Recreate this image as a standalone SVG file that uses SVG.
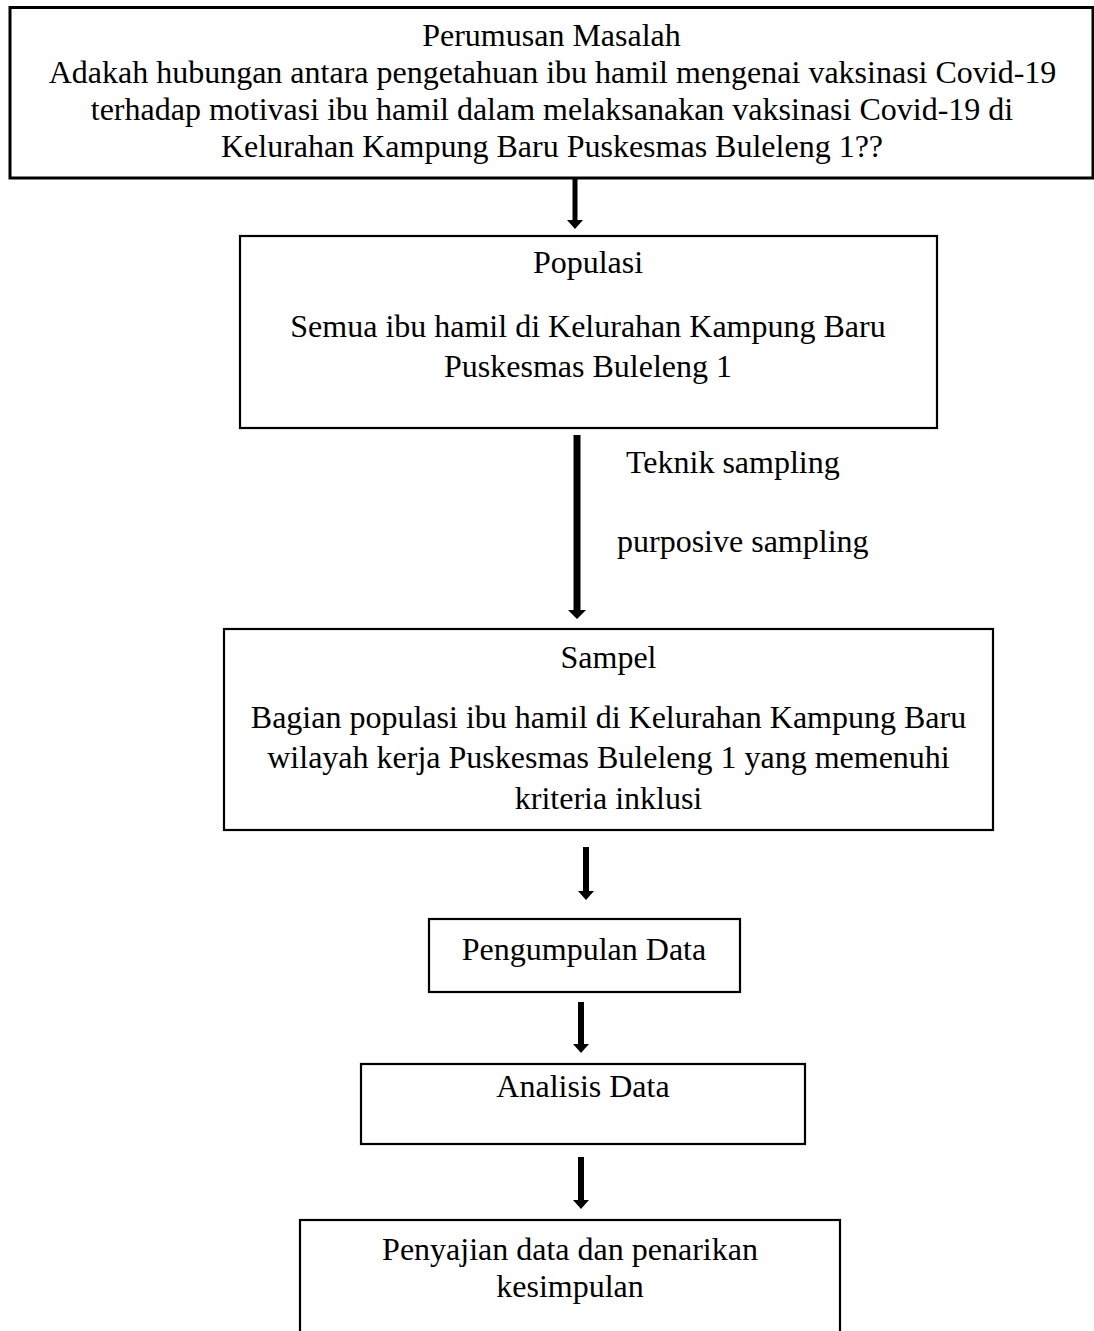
<svg xmlns="http://www.w3.org/2000/svg" width="1094" height="1331" viewBox="0 0 1094 1331">
<style>
.box{fill:#fff;stroke:#000;stroke-width:2.2}
.t{font-family:"Liberation Serif","Times New Roman",serif;font-size:32px;fill:#000}
.m{text-anchor:middle}
.arr{fill:#000}
</style>
<rect width="1094" height="1331" fill="#fff"/>
<g id="perumusan">
<rect class="box" x="10" y="7.5" width="1083" height="170.5" style="stroke-width:3"/>
<text class="t m" x="551.5" y="46">Perumusan Masalah</text>
<text class="t m" x="552.5" y="83">Adakah hubungan antara pengetahuan ibu hamil mengenai vaksinasi Covid-19</text>
<text class="t m" x="552" y="120">terhadap motivasi ibu hamil dalam melaksanakan vaksinasi Covid-19 di</text>
<text class="t m" x="552" y="157">Kelurahan Kampung Baru Puskesmas Buleleng 1??</text>
</g>
<g id="populasi">
<rect class="box" x="240" y="236" width="697" height="192"/>
<text class="t m" x="588" y="273">Populasi</text>
<text class="t m" x="588" y="337">Semua ibu hamil di Kelurahan Kampung Baru</text>
<text class="t m" x="588" y="377">Puskesmas Buleleng 1</text>
</g>
<g id="teknik">
<text class="t" x="626" y="473">Teknik sampling</text>
<text class="t" x="617" y="552">purposive sampling</text>
</g>
<g id="sampel">
<rect class="box" x="224" y="629" width="769" height="201"/>
<text class="t m" x="608.5" y="668">Sampel</text>
<text class="t m" x="608.5" y="728">Bagian populasi ibu hamil di Kelurahan Kampung Baru</text>
<text class="t m" x="608.5" y="768">wilayah kerja Puskesmas Buleleng 1 yang memenuhi</text>
<text class="t m" x="608.5" y="809">kriteria inklusi</text>
</g>
<g id="pengumpulan">
<rect class="box" x="429" y="919" width="311" height="73"/>
<text class="t m" x="584" y="960">Pengumpulan Data</text>
</g>
<g id="analisis">
<rect class="box" x="361" y="1064" width="444" height="80"/>
<text class="t m" x="583" y="1097">Analisis Data</text>
</g>
<g id="penyajian">
<rect class="box" x="300" y="1220" width="540" height="130"/>
<text class="t m" x="570" y="1260">Penyajian data dan penarikan</text>
<text class="t m" x="570" y="1297">kesimpulan</text>
</g>
<g id="connectors">
<path class="arr" d="M572.5,179 L577.5,179 L577.5,220 L583,220 L575,229 L567,220 L572.5,220 Z"/>
<path class="arr" d="M573.5,435 L580.5,435 L580.5,610 L586,610 L577,619 L568,610 L573.5,610 Z"/>
<path class="arr" d="M583,847 L589,847 L589,891 L594,891 L586,900 L578,891 L583,891 Z"/>
<path class="arr" d="M578,1002 L584,1002 L584,1044 L589,1044 L581,1053 L573,1044 L578,1044 Z"/>
<path class="arr" d="M578,1157 L584,1157 L584,1200 L589,1200 L581,1209 L573,1200 L578,1200 Z"/>
</g>
</svg>
